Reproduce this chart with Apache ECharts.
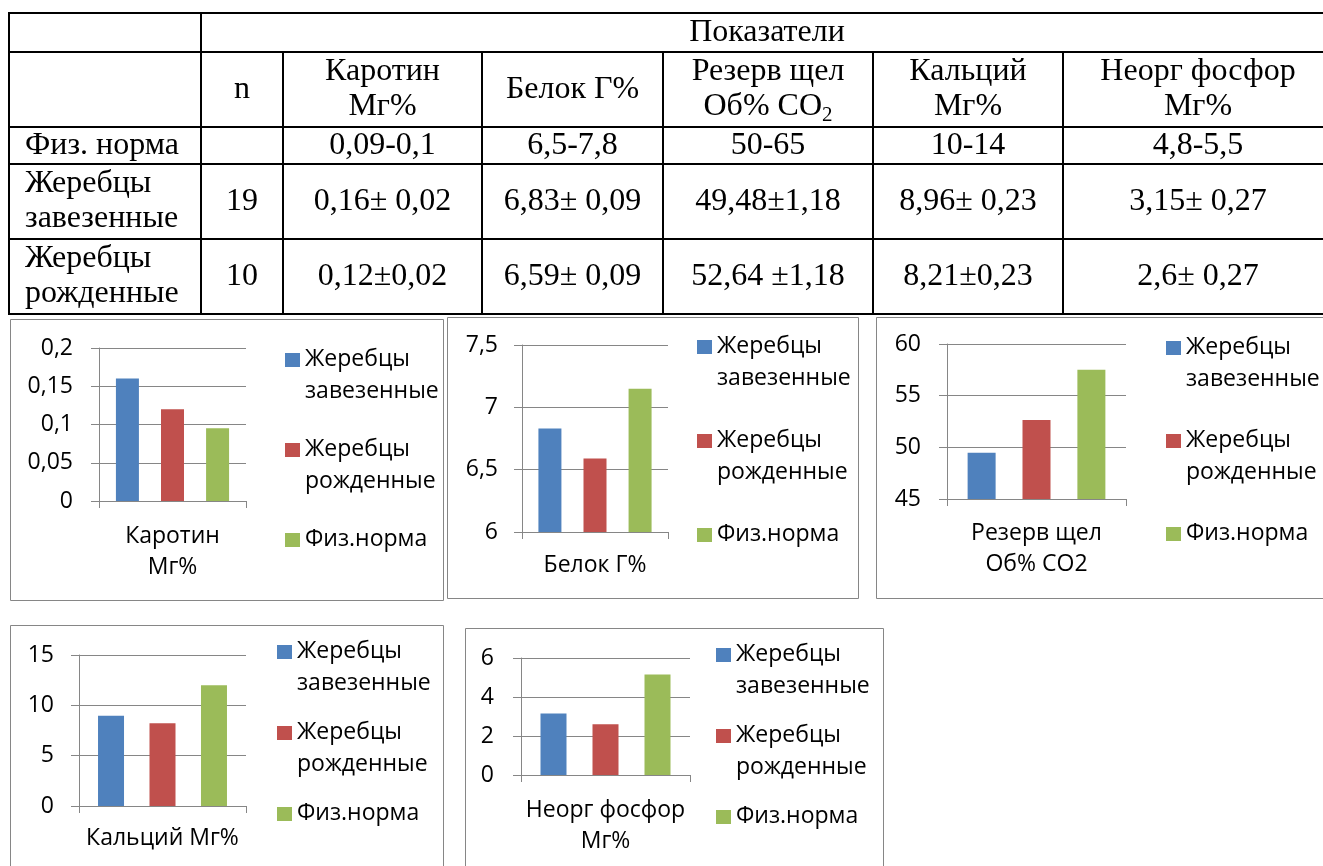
<!DOCTYPE html>
<html lang="ru">
<head>
<meta charset="utf-8">
<title>Показатели крови жеребцов</title>
<script src="https://cdn.jsdelivr.net/npm/echarts@6/dist/echarts.min.js"></script>
<style>
  html, body { margin: 0; padding: 0; background: #fff; }
  #chart { width: 1323px; height: 866px; }
</style>
</head>
<body>
<div id="chart"></div>
<script>
// ---- Data ----
const indicators = ['Каротин Мг%', 'Белок Г%', 'Резерв щел Об% CO2', 'Кальций Мг%', 'Неорг фосфор Мг%'];
const indicatorLabels = ['Каротин\nМг%', 'Белок Г%', 'Резерв щел\nОб% CO2', 'Кальций Мг%', 'Неорг фосфор\nМг%'];
const seriesNames = ['Жеребцы завезенные', 'Жеребцы рожденные', 'Физ.норма'];
const importedValues = [0.16, 6.83, 49.48, 8.96, 3.15];
const bornValues = [0.12, 6.59, 52.64, 8.21, 2.6];
const normValues = [0.095, 7.15, 57.5, 12, 5.15];   // middle of each norm range
const axisMin = [0, 6, 45, 0, 0];
const axisMax = [0.2, 7.5, 60, 15, 6];
const axisStep = [0.05, 0.5, 5, 5, 2];

// ---- Table text ----
const tableTitle = 'Показатели';
const tableColumns = ['n', 'Каротин\nМг%', 'Белок Г%', 'Резерв щел\nОб% CO{sub|2}', 'Кальций\nМг%', 'Неорг фосфор\nМг%'];
const tableRowNames = ['Физ. норма', 'Жеребцы\nзавезенные', 'Жеребцы\nрожденные'];
const tableCounts = ['', '19', '10'];
const normRanges = ['0,09-0,1', '6,5-7,8', '50-65', '10-14', '4,8-5,5'];
const importedStats = ['0,16± 0,02', '6,83± 0,09', '49,48±1,18', '8,96± 0,23', '3,15± 0,27'];
const bornStats = ['0,12±0,02', '6,59± 0,09', '52,64 ±1,18', '8,21±0,23', '2,6± 0,27'];

// ---- Styling / layout ----
const COLORS = ['#4F81BD', '#C0504D', '#9BBB59'];
const GRAY = '#868686';
const SANS = 'Open Sans';
const SERIF = 'Liberation Serif';
const SANS_SIZE = 23;
const SERIF_SIZE = 32;

const colX = [9, 201, 283, 482, 663, 873, 1063, 1333];
const rowY = [13, 52, 127, 164, 239, 314];

const panels = [
  { grid: { left: 99,  top: 348, width: 147, height: 153 }, barWidth: 23, barGap: '96%',  yMargin: 26, xMargin: 20, legend: { left: 285,  top: 343, itemGap: 26 }, frame: [10, 319, 433, 281] },
  { grid: { left: 522, top: 345, width: 146, height: 187 }, barWidth: 23, barGap: '96%',  yMargin: 24, xMargin: 18, legend: { left: 697,  top: 330, itemGap: 30 }, frame: [447, 317, 411, 281] },
  { grid: { left: 947, top: 344, width: 179, height: 155 }, barWidth: 28, barGap: '96%',  yMargin: 26, xMargin: 19, legend: { left: 1166, top: 331, itemGap: 29 }, frame: [876, 317, 460, 281] },
  { grid: { left: 79,  top: 655, width: 167, height: 151 }, barWidth: 26, barGap: '98%',  yMargin: 25, xMargin: 17, legend: { left: 277,  top: 635, itemGap: 17 }, frame: [10, 625, 433, 260] },
  { grid: { left: 521, top: 658, width: 169, height: 117 }, barWidth: 26, barGap: '100%', yMargin: 27, xMargin: 20, legend: { left: 716,  top: 638, itemGap: 17 }, frame: [465, 628, 418, 260] }
];

// Legend key: a square sitting beside the first text line of a two-line entry
const LEGEND_ICON = 'path://M0,0L15,0M0,10H15V24H0ZM0,64L15,64';

const seriesValues = [importedValues, bornValues, normValues];

// ---- Table drawn as graphic elements ----
const graphics = [];
function hLine(y, x1, x2) {
  graphics.push({ type: 'line', silent: true, shape: { x1: x1, y1: y, x2: x2, y2: y }, style: { stroke: '#000', lineWidth: 2 } });
}
function vLine(x, y1, y2) {
  graphics.push({ type: 'line', silent: true, shape: { x1: x, y1: y1, x2: x, y2: y2 }, style: { stroke: '#000', lineWidth: 2 } });
}
function cellText(text, x, y, align) {
  graphics.push({
    type: 'text', silent: true, x: x, y: y,
    style: {
      text: text, align: align || 'center', verticalAlign: 'middle',
      fontFamily: SERIF, fontSize: SERIF_SIZE, lineHeight: 35, fill: '#000',
      rich: { sub: { fontFamily: SERIF, fontSize: 21, lineHeight: 35, padding: [16, 0, 0, 0] } }
    }
  });
}
rowY.forEach(function (y) { hLine(y, colX[0] - 1, 1323); });
vLine(colX[0], rowY[0], rowY[5]);
vLine(colX[1], rowY[0], rowY[5]);
for (let c = 2; c < colX.length - 1; c++) vLine(colX[c], rowY[1], rowY[5]);

const rowMid = function (r) { return (rowY[r] + rowY[r + 1]) / 2; };
const colMid = function (c) { return (colX[c] + colX[c + 1]) / 2; };

cellText(tableTitle, (colX[1] + colX[7]) / 2, rowMid(0));
tableColumns.forEach(function (t, i) { cellText(t, colMid(i + 1), rowMid(1)); });
tableRowNames.forEach(function (t, r) { cellText(t, 25, rowMid(r + 2), 'left'); });
tableCounts.forEach(function (t, r) { if (t) cellText(t, colMid(1), rowMid(r + 2)); });
[normRanges, importedStats, bornStats].forEach(function (row, r) {
  row.forEach(function (t, i) { cellText(t, colMid(i + 2), rowMid(r + 2)); });
});

// chart frames
panels.forEach(function (p) {
  const f = p.frame;
  graphics.push({ type: 'rect', silent: true, shape: { x: f[0] + 0.5, y: f[1] + 0.5, width: f[2], height: f[3] }, style: { fill: null, stroke: GRAY, lineWidth: 1 } });
});

// ---- Charts ----
const grids = [], xAxes = [], yAxes = [], series = [], legends = [];
const fmtNum = function (v) { return String(+v.toFixed(4)).replace('.', ','); };

panels.forEach(function (p, i) {
  grids.push(Object.assign({ outerBoundsMode: 'none', containLabel: false }, p.grid));
  xAxes.push({
    type: 'category', gridIndex: i, data: [indicators[i]],
    axisLine: { show: true, lineStyle: { color: GRAY, width: 1 } },
    axisTick: { show: true, length: 7, lineStyle: { color: GRAY, width: 1 } },
    axisLabel: {
      interval: 0, margin: p.xMargin, color: '#000', fontFamily: SANS, fontSize: SANS_SIZE, lineHeight: 31,
      formatter: function () { return indicatorLabels[i]; }
    },
    splitLine: { show: false }
  });
  yAxes.push({
    type: 'value', gridIndex: i, min: axisMin[i], max: axisMax[i], interval: axisStep[i],
    axisLine: { show: true, lineStyle: { color: GRAY, width: 1 } },
    axisTick: { show: true, length: 8, lineStyle: { color: GRAY, width: 1 } },
    axisLabel: { margin: p.yMargin, color: '#000', fontFamily: SANS, fontSize: SANS_SIZE, formatter: fmtNum },
    splitLine: { show: true, lineStyle: { color: GRAY, width: 1 } }
  });
  seriesNames.forEach(function (name, k) {
    series.push({
      type: 'bar', name: name, xAxisIndex: i, yAxisIndex: i,
      data: [seriesValues[k][i]],
      barWidth: p.barWidth, barGap: p.barGap, clip: true,
      itemStyle: { color: COLORS[k], borderRadius: 0 },
      emphasis: { disabled: true }, silent: true
    });
  });
  legends.push({
    orient: 'vertical', left: p.legend.left, top: p.legend.top, itemGap: p.legend.itemGap,
    padding: 0, itemWidth: 15, itemHeight: 64, selectedMode: false,
    data: seriesNames.map(function (n) { return { name: n, icon: LEGEND_ICON }; }),
    formatter: function (name) { return name === 'Физ.норма' ? name + '\n ' : name.replace(' ', '\n'); },
    textStyle: { color: '#000', fontFamily: SANS, fontSize: SANS_SIZE, lineHeight: 32 }
  });
});

const chart = echarts.init(document.getElementById('chart'), null, { renderer: 'canvas' });
chart.setOption({
  animation: false,
  backgroundColor: '#fff',
  grid: grids,
  xAxis: xAxes,
  yAxis: yAxes,
  legend: legends,
  series: series,
  graphic: { elements: graphics }
});
</script>
</body>
</html>
